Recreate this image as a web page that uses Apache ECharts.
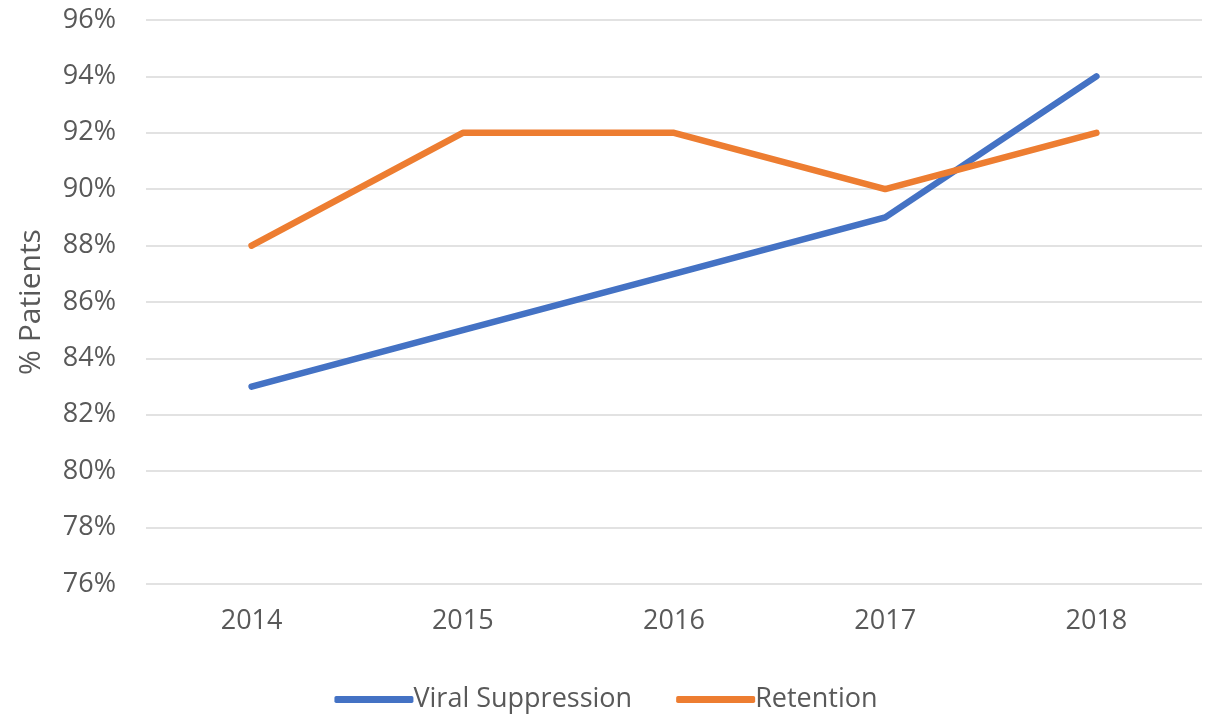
<!DOCTYPE html>
<html><head><meta charset="utf-8">
<script src="https://cdn.jsdelivr.net/npm/echarts@6/dist/echarts.min.js"></script>
<style>html,body{margin:0;padding:0;background:#fff}#c{width:1212px;height:714px}</style>
</head><body><div id="c"></div>
<script>
const categories = ['2014','2015','2016','2017','2018'];
const viralSuppression = [83, 85, 87, 89, 94];
const retention = [88, 92, 92, 90, 92];
const yTicks = {min: 76, max: 96, interval: 2};

const chart = echarts.init(document.getElementById('c'), null, {renderer:'canvas'});
const font = '"Open Sans", "Noto Sans", sans-serif';
chart.setOption({
  animation: false,
  textStyle: {fontFamily: font},
  grid: {left: 146, right: 10, top: 20, bottom: 130, containLabel: false},
  xAxis: {
    type: 'category', data: categories, boundaryGap: true,
    axisLine: {show: false}, axisTick: {show: false},
    axisLabel: {color: '#595959', fontSize: 27, margin: 24, fontFamily: font}
  },
  yAxis: {
    type: 'value', min: yTicks.min, max: yTicks.max, interval: yTicks.interval,
    name: '% Patients', nameLocation: 'middle', nameGap: 100,
    nameTextStyle: {color: '#595959', fontSize: 30, fontFamily: font},
    axisLine: {show: false}, axisTick: {show: false},
    axisLabel: {color: '#595959', fontSize: 27, margin: 30, fontFamily: font, formatter: v => v + '%'},
    splitLine: {lineStyle: {color: '#d9d9d9', width: 1.5}}
  },
  legend: {
    top: 681, left: 'center', itemWidth: 79, itemHeight: 7, itemGap: 44,
    icon: 'roundRect',
    textStyle: {color: '#595959', fontSize: 27, fontFamily: font, padding: [0,0,0,-5]},
    data: ['Viral Suppression', 'Retention']
  },
  series: [
    {name: 'Viral Suppression', type: 'line', data: viralSuppression, showSymbol: false,
     lineStyle: {color: '#4472C4', width: 6.5, cap: 'round'}, itemStyle: {color: '#4472C4'}},
    {name: 'Retention', type: 'line', data: retention, showSymbol: false,
     lineStyle: {color: '#ED7D31', width: 6.5, cap: 'round'}, itemStyle: {color: '#ED7D31'}}
  ]
});
</script></body></html>
